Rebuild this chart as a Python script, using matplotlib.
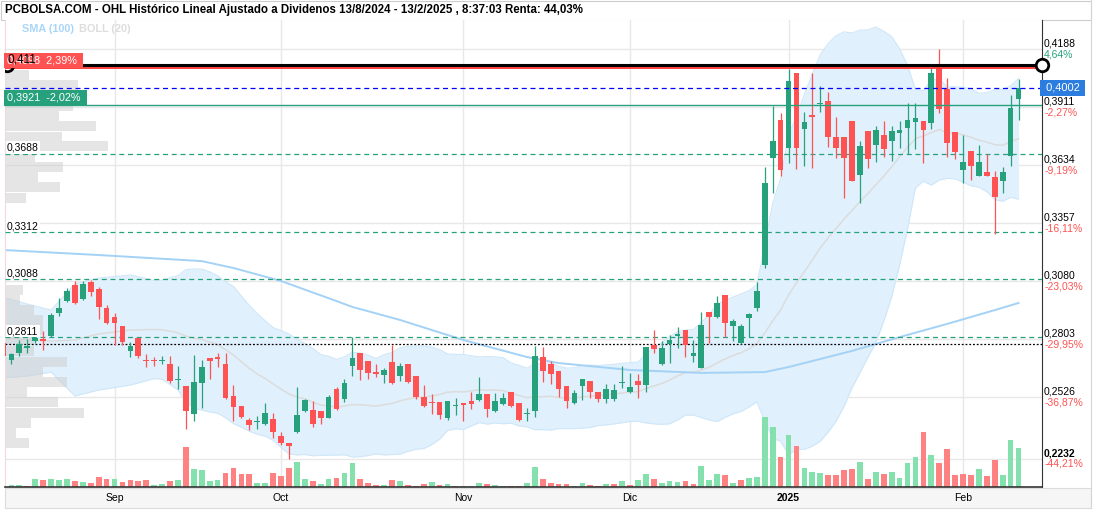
import numpy as np
import pandas as pd
import matplotlib
matplotlib.use("Agg")
import matplotlib.pyplot as plt
from matplotlib.patches import Rectangle
from matplotlib.lines import Line2D

plt.rcParams['font.family'] = ['Liberation Sans', 'DejaVu Sans']

# sessions 13/8/2024 - 12/2/2025 (BME closed 25-26 Dec and 1 Jan)
dates = pd.bdate_range("2024-08-13", "2025-02-12")
dates = dates[~dates.isin(pd.to_datetime(["2024-12-25", "2024-12-26", "2025-01-01"]))]

opens = [0.2784, 0.2703, 0.2736, 0.2760, 0.2793, 0.2803, 0.2817, 0.2927, 0.2984, 0.3061,
         0.2994, 0.3075, 0.3042, 0.2951, 0.2908, 0.2865, 0.2746, 0.2808, 0.2703, 0.2703,
         0.2698, 0.2684, 0.2607, 0.2579, 0.2445, 0.2593, 0.2712, 0.2717, 0.2684, 0.2531,
         0.2483, 0.2416, 0.2407, 0.2397, 0.2421, 0.2340, 0.2306, 0.2359, 0.2459, 0.2464,
         0.2459, 0.2426, 0.2564, 0.2516, 0.2674, 0.2736, 0.2698, 0.2645, 0.2631, 0.2693,
         0.2626, 0.2684, 0.2626, 0.2526, 0.2502, 0.2502, 0.2426, 0.2483, 0.2497, 0.2507,
         0.2512, 0.2540, 0.2459, 0.2493, 0.2550, 0.2497, 0.2445, 0.2459, 0.2717, 0.2684,
         0.2650, 0.2579, 0.2497, 0.2579, 0.2602, 0.2550, 0.2516, 0.2516, 0.2593, 0.2550,
         0.2602, 0.2583, 0.2774, 0.2684, 0.2779, 0.2817, 0.2846, 0.2722, 0.2664, 0.2932,
         0.2908, 0.3013, 0.2865, 0.2784, 0.2903, 0.2951, 0.3156, 0.3667, 0.3849, 0.3715,
         0.4073, 0.3806, 0.3873, 0.3925, 0.3940, 0.3768, 0.3768, 0.3844, 0.3586, 0.3796,
         0.3729, 0.3777, 0.3749, 0.3787, 0.3811, 0.3839, 0.3844, 0.3835, 0.4097, 0.3997,
         0.3792, 0.3610, 0.3701, 0.3581, 0.3601, 0.3577, 0.3558, 0.3677, 0.3949]
highs = [0.2790, 0.2736, 0.2798, 0.2803, 0.2817, 0.2841, 0.2927, 0.2999, 0.3047, 0.3080,
         0.3080, 0.3085, 0.3051, 0.2965, 0.2927, 0.2865, 0.2789, 0.2808, 0.2731, 0.2717,
         0.2722, 0.2722, 0.2674, 0.2579, 0.2727, 0.2703, 0.2712, 0.2736, 0.2736, 0.2583,
         0.2483, 0.2426, 0.2435, 0.2497, 0.2450, 0.2359, 0.2306, 0.2574, 0.2516, 0.2507,
         0.2459, 0.2536, 0.2574, 0.2612, 0.2812, 0.2736, 0.2698, 0.2684, 0.2664, 0.2774,
         0.2688, 0.2684, 0.2626, 0.2583, 0.2540, 0.2502, 0.2507, 0.2521, 0.2497, 0.2550,
         0.2621, 0.2540, 0.2545, 0.2545, 0.2550, 0.2497, 0.2474, 0.2770, 0.2765, 0.2698,
         0.2650, 0.2579, 0.2559, 0.2612, 0.2602, 0.2550, 0.2588, 0.2588, 0.2674, 0.2641,
         0.2636, 0.2765, 0.2846, 0.2793, 0.2822, 0.2860, 0.2846, 0.2798, 0.2932, 0.2932,
         0.3008, 0.3013, 0.2898, 0.2875, 0.2927, 0.3075, 0.3624, 0.3916, 0.3882, 0.4092,
         0.4073, 0.3887, 0.4073, 0.4011, 0.3983, 0.3863, 0.3768, 0.3844, 0.3749, 0.3796,
         0.3820, 0.3844, 0.3820, 0.3844, 0.3930, 0.3930, 0.3844, 0.4097, 0.4188, 0.4049,
         0.3792, 0.3777, 0.3701, 0.3729, 0.3687, 0.3605, 0.3624, 0.3968, 0.4045]
lows = [0.2679, 0.2684, 0.2722, 0.2736, 0.2784, 0.2750, 0.2812, 0.2913, 0.2980, 0.2970,
        0.2989, 0.3008, 0.2898, 0.2875, 0.2774, 0.2774, 0.2717, 0.2712, 0.2669, 0.2674,
        0.2684, 0.2593, 0.2564, 0.2373, 0.2411, 0.2473, 0.2612, 0.2669, 0.2516, 0.2411,
        0.2426, 0.2368, 0.2373, 0.2392, 0.2330, 0.2297, 0.2232, 0.2354, 0.2454, 0.2383,
        0.2397, 0.2426, 0.2464, 0.2502, 0.2626, 0.2607, 0.2612, 0.2621, 0.2593, 0.2588,
        0.2602, 0.2593, 0.2516, 0.2478, 0.2445, 0.2421, 0.2416, 0.2440, 0.2411, 0.2469,
        0.2507, 0.2430, 0.2454, 0.2488, 0.2478, 0.2411, 0.2411, 0.2430, 0.2598, 0.2588,
        0.2526, 0.2473, 0.2493, 0.2512, 0.2521, 0.2502, 0.2497, 0.2507, 0.2569, 0.2545,
        0.2521, 0.2550, 0.2736, 0.2679, 0.2688, 0.2760, 0.2717, 0.2693, 0.2664, 0.2784,
        0.2903, 0.2812, 0.2793, 0.2779, 0.2812, 0.2937, 0.3142, 0.3500, 0.3581, 0.3644,
        0.3615, 0.3629, 0.3620, 0.3887, 0.3720, 0.3667, 0.3476, 0.3558, 0.3452, 0.3620,
        0.3648, 0.3672, 0.3653, 0.3715, 0.3687, 0.3710, 0.3644, 0.3806, 0.3882, 0.3672,
        0.3663, 0.3548, 0.3562, 0.3581, 0.3581, 0.3304, 0.3500, 0.3629, 0.3849]
closes = [0.2722, 0.2731, 0.2779, 0.2770, 0.2808, 0.2793, 0.2918, 0.2951, 0.3032, 0.2975,
          0.3066, 0.3027, 0.2956, 0.2879, 0.2879, 0.2789, 0.2770, 0.2722, 0.2698, 0.2698,
          0.2703, 0.2602, 0.2612, 0.2459, 0.2598, 0.2669, 0.2698, 0.2707, 0.2521, 0.2478,
          0.2430, 0.2392, 0.2411, 0.2450, 0.2359, 0.2306, 0.2292, 0.2440, 0.2512, 0.2397,
          0.2426, 0.2526, 0.2469, 0.2593, 0.2712, 0.2655, 0.2641, 0.2636, 0.2655, 0.2593,
          0.2674, 0.2598, 0.2526, 0.2483, 0.2497, 0.2440, 0.2507, 0.2488, 0.2488, 0.2493,
          0.2540, 0.2469, 0.2507, 0.2521, 0.2483, 0.2416, 0.2450, 0.2722, 0.2650, 0.2636,
          0.2564, 0.2507, 0.2545, 0.2612, 0.2550, 0.2516, 0.2564, 0.2559, 0.2598, 0.2574,
          0.2583, 0.2765, 0.2755, 0.2760, 0.2798, 0.2827, 0.2774, 0.2736, 0.2870, 0.2908,
          0.2975, 0.2879, 0.2889, 0.2865, 0.2922, 0.3032, 0.3548, 0.3749, 0.3610, 0.4035,
          0.3715, 0.3839, 0.3863, 0.3930, 0.3768, 0.3715, 0.3667, 0.3558, 0.3725, 0.3663,
          0.3801, 0.3710, 0.3796, 0.3801, 0.3849, 0.3858, 0.3801, 0.4073, 0.3901, 0.3739,
          0.3696, 0.3648, 0.3629, 0.3648, 0.3581, 0.3481, 0.3601, 0.3906, 0.4002]
# volume, relative units (no scale shown on the chart)
volumes = [2, 2, 2, 1, 7.7, 6.7, 7.7, 6.7, 7.7, 5.7,
           4.7, 3.7, 10, 7.7, 7.7, 4.7, 6.7, 5.7, 6.7, 1.7,
           2.7, 5.7, 6.7, 39.7, 17.7, 16.7, 5.7, 6.7, 13.7, 18.7,
           12.7, 12.7, 3.7, 3.7, 13.7, 11, 18.7, 24.7, 7.7, 5.7,
           2.7, 7.7, 8.7, 13.7, 23.7, 7.7, 3.7, 1.7, 1.7, 6.7,
           5.7, 1.7, 1, 2.7, 4.7, 1.7, 2.7, 1, 1, 1,
           3.7, 2.7, 1.7, 1, 1, 1, 3.7, 19.7, 7.7, 3.7,
           2.7, 2.7, 1, 3.7, 1.7, 1, 2.7, 2.7, 5.7, 1.7,
           6.7, 12.7, 7.7, 3.7, 5.7, 4.7, 5.7, 2.7, 20.7, 6.7,
           12.7, 11.7, 3.7, 6.7, 8.7, 9.7, 69.7, 59.7, 29.7, 52.3,
           40.7, 18.7, 14.7, 13.7, 11.7, 11.7, 16.7, 17.7, 24.7, 7.7,
           14.7, 12.7, 14.7, 8.7, 23.7, 29.7, 54.7, 31.7, 23.7, 37.7,
           11.7, 12.7, 11.7, 17.7, 10.7, 26.7, 11.7, 46.7, 38.7]

# BOLL(20) before the 20th session needs older data -> values
boll_pre_idx = [0, 3, 6, 9, 12, 16]
boll_pre_up = [0.3003, 0.2970, 0.2941, 0.3066, 0.3094, 0.3109]
boll_pre_mid = [0.2808, 0.2798, 0.2793, 0.2798, 0.2827, 0.2846]
boll_pre_lo = [0.2617, 0.2626, 0.2645, 0.2531, 0.2559, 0.2583]

# SMA(100)
sma100_idx = [0, 12, 25, 29, 35, 42, 44, 50, 58, 66, 70, 79, 88, 96, 99, 107, 113, 119, 125, 128]
sma100_val = [0.3228, 0.3204, 0.3175, 0.3142, 0.3080, 0.2984, 0.2956, 0.2894, 0.2798, 0.2717,
              0.2688, 0.2655, 0.2641, 0.2645, 0.2669, 0.2746, 0.2812, 0.2875, 0.2941, 0.2975]

# volume-by-price profile on the left
profile_levels = [0.4064, 0.4016, 0.3964, 0.3916, 0.3868, 0.3820, 0.3772, 0.3725, 0.3672, 0.3624,
                  0.3577, 0.3529, 0.3476, 0.3037, 0.2989, 0.2941, 0.2894, 0.2846, 0.2798, 0.2746,
                  0.2693, 0.2645, 0.2598, 0.2550, 0.2502, 0.2450, 0.2402, 0.2354, 0.2306]
profile_vol = [24, 73, 75, 68, 54, 91, 57, 103, 30, 58, 33, 55, 21, 18, 15, 29, 38, 38, 29, 29,
               62, 38, 62, 22, 53, 79, 26, 11, 24]

axis_ticks = [0.4188, 0.3911, 0.3634, 0.3357, 0.3080, 0.2803, 0.2526, 0.2232]
axis_pcts = ["4,64%", "-2,27%", "-9,19%", "-16,11%", "-23,03%", "-29,95%", "-36,87%", "-44,21%"]
month_labels = ["Sep", "Oct", "Nov", "Dic", "2025", "Feb"]

support_levels = [0.3688, 0.3312, 0.3088, 0.2811]
last_price = 0.4002
green_level = 0.3921
red_level = 0.4098
black_level = 0.411
start_price = 0.2779

TITLE = ("PCBOLSA.COM - OHL Histórico Lineal Ajustado a Dividenos 13/8/2024 - 13/2/2025 , "
         "8:37:03 Renta: 44,03%")

GREEN = "#26a17b"
RED = "#ff5252"
W, H = 1096, 512
PL, PR, PT, PB = 5, 1042, 20, 487
Y_TOP, Y_BOT = 0.43265, 0.20961
X_LEFT, X_RIGHT = 0.19, 130.96


def fmt(v):
    return f"{v:.4f}".replace(".", ",")


def fig_rect(fig, x0, y0, x1, y1, **kw):
    fig.add_artist(Rectangle((x0 / W, 1 - y1 / H), (x1 - x0) / W, (y1 - y0) / H,
                             transform=fig.transFigure, **kw))


def main():
    fig = plt.figure(figsize=(W / 100, H / 100), dpi=100)
    ax = fig.add_axes([PL / W, 1 - PB / H, (PR - PL) / W, (PB - PT) / H])
    ax.set_xlim(X_LEFT, X_RIGHT)
    ax.set_ylim(Y_BOT, Y_TOP)
    ppx = (Y_TOP - Y_BOT) / (PB - PT)      # price per pixel
    ipx = (X_RIGHT - X_LEFT) / (PR - PL)   # index per pixel

    x = np.arange(len(closes))
    o, h, l, c = map(np.array, (opens, highs, lows, closes))

    # bollinger + sma
    cs = pd.Series(c)
    mid = cs.rolling(20).mean()
    sd = cs.rolling(20).std(ddof=0)
    bx = np.r_[boll_pre_idx, x[19:]]
    bup = np.r_[boll_pre_up, (mid + 2 * sd).values[19:]]
    bmid = np.r_[boll_pre_mid, mid.values[19:]]
    blo = np.r_[boll_pre_lo, (mid - 2 * sd).values[19:]]
    ax.fill_between(bx, blo, bup, color="#e0f0fc", lw=0, zorder=1)
    ax.plot(bx, bup, color="#cfe7f9", lw=0.8, zorder=1.1)
    ax.plot(bx, blo, color="#cfe7f9", lw=0.8, zorder=1.1)
    ax.plot(bx, bmid, color="#dcdcdc", lw=1.1, zorder=1.2)
    ax.plot(sma100_idx, sma100_val, color="#a3d2f6", lw=1.4, zorder=1.3)

    # volume at the bottom, coloured against previous close
    prev = np.r_[o[0], c[:-1]]
    vcol = np.where(c >= prev, "#84e0ad", "#ff8282")
    ax.bar(x, np.array(volumes) * ppx, bottom=Y_BOT, width=0.72, color=vcol, lw=0, zorder=2)

    # price profile
    ax.barh(profile_levels, np.array(profile_vol) * ipx, left=X_LEFT, height=9.2 * ppx,
            color="#cdcdcd", alpha=0.5, lw=0, zorder=2.5)

    # candles
    col = np.where(c >= o, GREEN, RED)
    ax.vlines(x, l, h, colors=col, lw=0.9, zorder=4)
    body = np.maximum(np.abs(c - o), 1.3 * ppx)
    ax.bar(x, body, bottom=np.minimum(o, c), width=0.72, color=col, lw=0, zorder=5)

    # level lines
    ax.axhline(start_price, color="black", lw=0.9, ls=(0, (1.5, 1.5)), zorder=3)
    for lvl in support_levels:
        ax.axhline(lvl, color=GREEN, lw=0.9, ls=(0, (4, 3)), zorder=3)
        ax.annotate(fmt(lvl), xy=(0, lvl), xycoords=ax.get_yaxis_transform(),
                    xytext=(1.5, 0.8), textcoords="offset points", fontsize=7.5, va="bottom",
                    bbox=dict(fc="white", ec="none", pad=0.8), zorder=7)
    ax.axhline(last_price, color="#0000ff", lw=0.9, ls=(0, (4, 3)), zorder=6)
    ax.axhline(green_level, color=GREEN, lw=1.0, zorder=6)
    ax.axhline(red_level, color="#ff3030", lw=1.3, zorder=6)
    ax.axhline(black_level, color="black", lw=2.2, zorder=7)
    ax.plot([X_RIGHT], [black_level], "o", ms=9, mfc="white", mec="black", mew=2,
            clip_on=False, zorder=8)
    ax.plot([X_LEFT + 0.3], [black_level], "o", ms=9, mfc="none", mec="black", mew=2,
            zorder=8)

    ytr = ax.get_yaxis_transform()
    ax.annotate(fmt(red_level) + "  2,39% ", xy=(0, red_level), xycoords=ytr, xytext=(1.5, 1.5),
                textcoords="offset points", fontsize=7.8, color="white", va="bottom",
                bbox=dict(boxstyle="square,pad=0.25", fc="#ff5252", ec="none"), zorder=8)
    ax.annotate(fmt(black_level)[:5], xy=(0, black_level), xycoords=ytr, xytext=(2, 0),
                textcoords="offset points", fontsize=8.5, color="black", va="bottom", zorder=9)
    ax.annotate(fmt(green_level) + "  -2,02% ", xy=(0, green_level), xycoords=ytr,
                xytext=(1.5, 1.5), textcoords="offset points", fontsize=7.8, color="white",
                va="bottom", bbox=dict(boxstyle="square,pad=0.3", fc=GREEN, ec="none"),
                zorder=8)

    # right axis labels
    for t, p in zip(axis_ticks, axis_pcts):
        ax.annotate(fmt(t), xy=(1, t), xycoords=ytr, xytext=(1.5, 0.3),
                    textcoords="offset points", fontsize=7.5, va="bottom",
                    fontweight="bold" if t == min(axis_ticks) else "normal",
                    annotation_clip=False)
        ax.annotate(p, xy=(1, t), xycoords=ytr, xytext=(1.5, -0.3), textcoords="offset points",
                    fontsize=7.5, va="top", color=RED if p.startswith("-") else GREEN,
                    annotation_clip=False)
    ax.annotate(" " + fmt(last_price) + " ", xy=(1, last_price), xycoords=ytr, xytext=(0.5, 0),
                textcoords="offset points", fontsize=8, va="center", color="white",
                bbox=dict(boxstyle="square,pad=0.25", fc="#2b7de0", ec="none"),
                annotation_clip=False, zorder=9)

    # grid / axes
    month_idx = [int(np.argmax(dates.month == m)) for m in (9, 10, 11, 12, 1, 2)]
    ax.set_xticks(month_idx)
    ax.set_xticklabels(month_labels, fontsize=7.5)
    ax.get_xticklabels()[4].set_fontweight("bold")
    ax.set_yticks(axis_ticks)
    ax.tick_params(axis="y", length=0, labelleft=False)
    ax.tick_params(axis="x", length=0, pad=4)
    ax.grid(True, color="#e8e8e8", lw=1)
    ax.set_axisbelow(True)
    ax.spines["top"].set_visible(False)
    ax.spines["right"].set_color("#333333")
    ax.spines["bottom"].set_color("#333333")
    ax.spines["bottom"].set_linewidth(1.2)
    ax.spines["left"].set_color("#f0dada")

    # frame, title, legend
    fig_rect(fig, 0.5, 0.5, 1091, 20, fc="white", ec="#cccccc", lw=0.8, zorder=-1)
    fig_rect(fig, 5, 488, 1091, 508, fc="#f6f6f6", ec="#dcdcdc", lw=0.8, zorder=-1)
    fig.add_artist(Line2D([1091 / W, 1091 / W], [1 - 508 / H, 1], color="#d5d5d5", lw=0.8,
                          transform=fig.transFigure))
    fig.text(5 / W, 1 - 10.5 / H, TITLE, fontsize=8.3, fontweight="bold", va="center")
    fig.text(22 / W, 1 - 28.5 / H, "SMA (100)", fontsize=7.8, fontweight="bold",
             color="#a9d6f8", va="center")
    fig.text(79 / W, 1 - 28.5 / H, "BOLL (20)", fontsize=7.8, fontweight="bold",
             color="#dddddd", va="center")

    fig.savefig("out.png", dpi=100)


if __name__ == "__main__":
    main()
